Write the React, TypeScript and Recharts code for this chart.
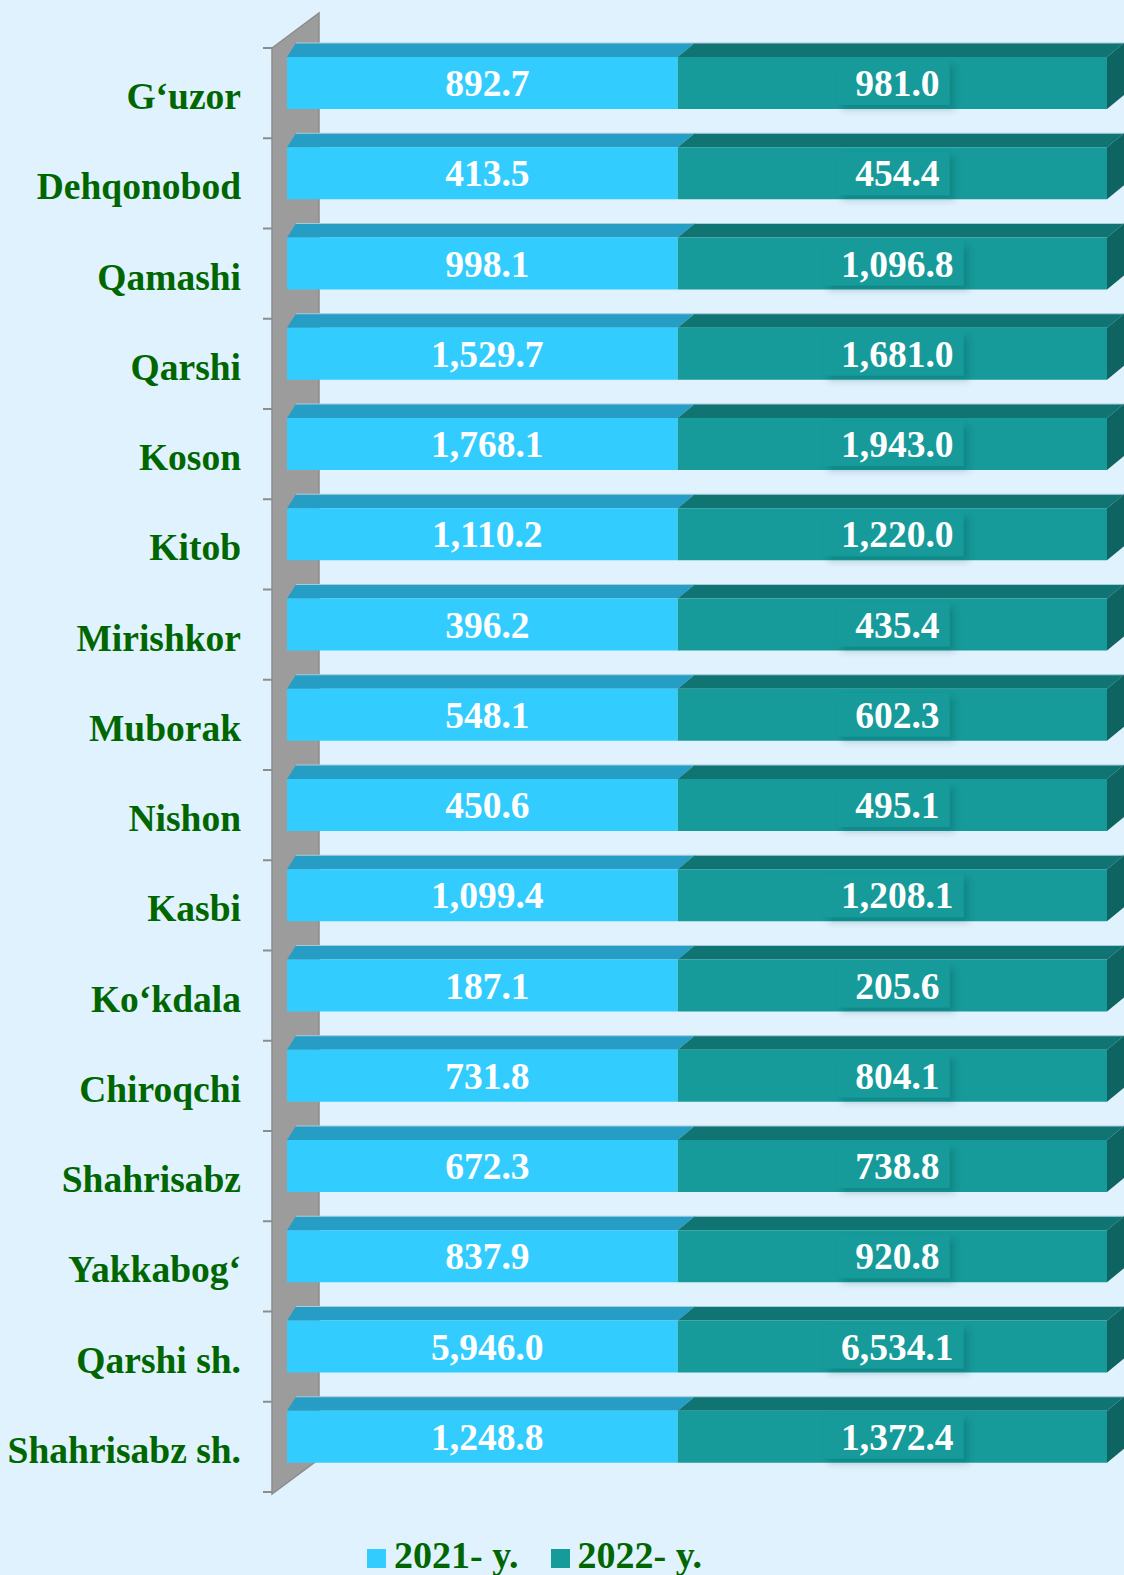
import React from "react";
import { Bar, BarChart, XAxis, YAxis } from "recharts";

const districts = [
  "G‘uzor",
  "Dehqonobod",
  "Qamashi",
  "Qarshi",
  "Koson",
  "Kitob",
  "Mirishkor",
  "Muborak",
  "Nishon",
  "Kasbi",
  "Ko‘kdala",
  "Chiroqchi",
  "Shahrisabz",
  "Yakkabog‘",
  "Qarshi sh.",
  "Shahrisabz sh.",
];
const values2021 = [892.7, 413.5, 998.1, 1529.7, 1768.1, 1110.2, 396.2, 548.1, 450.6, 1099.4, 187.1, 731.8, 672.3, 837.9, 5946.0, 1248.8];
const values2022 = [981.0, 454.4, 1096.8, 1681.0, 1943.0, 1220.0, 435.4, 602.3, 495.1, 1208.1, 205.6, 804.1, 738.8, 920.8, 6534.1, 1372.4];
const seriesNames = ["2021- y.", "2022- y."];

const data = districts.map((name, i) => ({ name, y2021: values2021[i], y2022: values2022[i] }));

const W = 1124;
const H = 1575;
const PLOT_LEFT = 287;
const PLOT_TOP = 38;
const PLOT_RIGHT = 1107;
const BAND = 90.25;
const PLOT_BOTTOM = PLOT_TOP + BAND * districts.length;
const DEPTH_Y = 14;
const DEPTH_X = 17;
const LABEL_SIZE = 37.5;

const FONT = '"Liberation Serif", "Times New Roman", serif';
const GREEN = "#006600";
const BG = "#E0F2FE";

const fmt = new Intl.NumberFormat("en-US", { minimumFractionDigits: 1, maximumFractionDigits: 1 });

const colors = {
  y2021: { front: "#33CCFF", top: "#269DC4", side: "#1F86A8" },
  y2022: { front: "#169A9A", top: "#107472", side: "#0E6461" },
};

// rough text width for the label backing box
function textWidth(s: string) {
  let w = 0;
  for (const ch of s) w += ch === "," || ch === "." ? 0.25 : 0.5;
  return w * LABEL_SIZE;
}

function makeShape(key: "y2021" | "y2022", last: boolean) {
  return (props: any) => {
    const { x, y, width, height, payload } = props;
    const c = colors[key];
    const leftDx = x <= PLOT_LEFT + 1 ? 9 : DEPTH_X;
    const top = `${x},${y} ${x + leftDx},${y - DEPTH_Y} ${x + width + DEPTH_X},${y - DEPTH_Y} ${x + width},${y}`;
    const side = `${x + width},${y} ${x + width + DEPTH_X},${y - DEPTH_Y} ${x + width + DEPTH_X},${y + height - DEPTH_Y} ${x + width},${y + height}`;
    const label = fmt.format(payload[key]);
    const cx = x + width / 2 + 5;
    const tw = textWidth(label);
    return (
      <g>
        <polygon points={top} fill={c.top} />
        <line x1={x + leftDx} y1={y - DEPTH_Y} x2={x + width + DEPTH_X} y2={y - DEPTH_Y} stroke="#A6CCDB" strokeWidth={1} />
        {last && <polygon points={side} fill={c.side} />}
        <rect x={x} y={y} width={width} height={height} fill={c.front} />
        {last && (
          <rect
            x={cx - tw / 2 - 18}
            y={y + 4}
            width={tw + 28}
            height={height - 8}
            fill={c.front}
            filter="url(#labelShadow)"
          />
        )}
        <text x={cx} y={y + height / 2 + 13} textAnchor="middle" fill="#FFFFFF" fontFamily={FONT} fontWeight="bold" fontSize={LABEL_SIZE}>
          {label}
        </text>
      </g>
    );
  };
}

function CategoryTick(props: any) {
  const { x, y, payload } = props;
  return (
    <text x={x} y={y + 26} textAnchor="end" fill={GREEN} fontFamily={FONT} fontWeight="bold" fontSize={LABEL_SIZE}>
      {payload.value}
    </text>
  );
}

function Wall() {
  const fx = 272;
  const bx = 319;
  const y0 = PLOT_TOP + 10;
  const y1 = PLOT_BOTTOM + 12;
  const ticks = districts.map((_, i) => y0 + i * BAND).concat([y0 + districts.length * BAND]);
  return (
    <svg width={W} height={H} style={{ position: "absolute", left: 0, top: 0 }}>
      <defs>
        <filter id="labelShadow" x="-20%" y="-30%" width="150%" height="180%">
          <feDropShadow dx={5} dy={5} stdDeviation={3} floodColor="#0A4040" floodOpacity={0.22} />
        </filter>
      </defs>
      <polygon points={`${fx},${y0} ${bx},${y0 - 35} ${bx},${y1 - 35} ${fx},${y1}`} fill="#9C9C9C" stroke="#8C8C8C" strokeWidth={1.5} />
      {ticks.map((t, i) => (
        <line key={i} x1={263} x2={fx} y1={t} y2={t} stroke="#8C8C8C" strokeWidth={2} />
      ))}
    </svg>
  );
}

function ChartLegend() {
  const items = [
    { name: seriesNames[0], color: colors.y2021.front },
    { name: seriesNames[1], color: colors.y2022.front },
  ];
  return (
    <div
      style={{
        position: "absolute",
        left: 367,
        top: 1536,
        display: "flex",
        alignItems: "center",
        fontFamily: FONT,
        fontWeight: "bold",
        fontSize: 38,
        color: GREEN,
        lineHeight: "38px",
      }}
    >
      {items.map((it, i) => (
        <div key={i} style={{ display: "flex", alignItems: "center", marginRight: i === 0 ? 32 : 0 }}>
          <span style={{ display: "inline-block", width: 19, height: 19, background: it.color, marginRight: 8, marginTop: 6 }} />
          <span>{it.name}</span>
        </div>
      ))}
    </div>
  );
}

export default function App() {
  return (
    <div style={{ position: "absolute", left: 0, top: 0, width: W, height: H, background: BG, overflow: "hidden" }}>
      <Wall />
      <div style={{ position: "absolute", left: 0, top: 0 }}>
        <BarChart
          width={W}
          height={H}
          data={data}
          layout="vertical"
          stackOffset="expand"
          margin={{ top: PLOT_TOP, right: W - PLOT_RIGHT, bottom: H - PLOT_BOTTOM, left: PLOT_LEFT - 250 }}
        >
          <XAxis type="number" hide domain={[0, 1]} />
          <YAxis
            type="category"
            dataKey="name"
            width={250}
            tickSize={0}
            tickMargin={46}
            axisLine={false}
            tickLine={false}
            interval={0}
            tick={<CategoryTick />}
          />
          <Bar dataKey="y2021" stackId="a" barSize={52} fill={colors.y2021.front} shape={makeShape("y2021", false)} isAnimationActive={false} />
          <Bar dataKey="y2022" stackId="a" barSize={52} fill={colors.y2022.front} shape={makeShape("y2022", true)} isAnimationActive={false} />
        </BarChart>
      </div>
      <ChartLegend />
    </div>
  );
}
